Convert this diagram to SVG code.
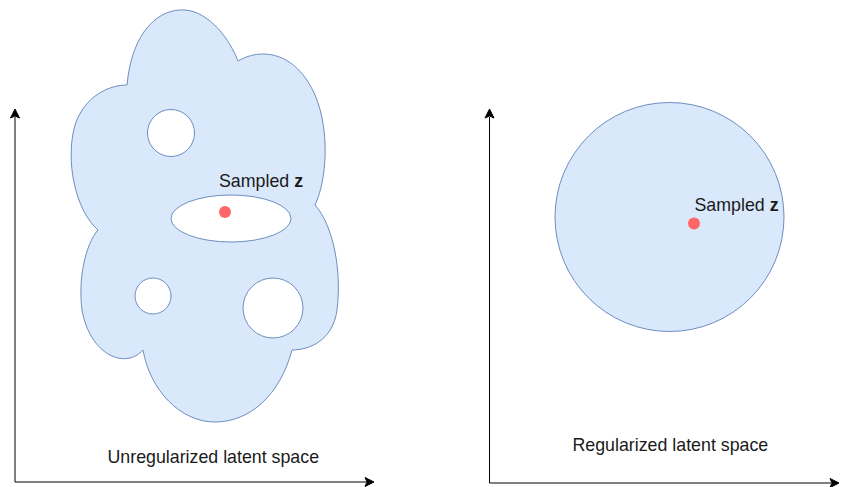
<svg xmlns="http://www.w3.org/2000/svg" width="841" height="487" viewBox="0 0 841 487">
  <style>
    .region { fill: #dae8fc; stroke: #6c8ebf; stroke-width: 1; }
    .hole { fill: #ffffff; stroke: #6c8ebf; stroke-width: 1; }
    .dot { fill: #ff6666; }
    .axis { fill: none; stroke: #000000; stroke-width: 1; }
    .head { fill: #000000; stroke: #000000; stroke-width: 1; }
    .label { font-family: "Liberation Sans", Arial, Helvetica, sans-serif; font-size: 17.8px; fill: #1a1a1a; }
    .bold { font-weight: bold; }
  </style>

  <!-- Axes -->
  <g id="connectors">
    <path class="axis" d="M15,482 L15,117"/>
    <path class="head" d="M15,109 L19.5,118 L15,116 L10.5,118 Z"/>
    <path class="axis" d="M15,482 L366,482"/>
    <path class="head" d="M374,482 L365,486.5 L367,482 L365,477.5 Z"/>
    <path class="axis" d="M489.5,483 L489.5,117"/>
    <path class="head" d="M489.5,109 L494,118 L489.5,116 L485,118 Z"/>
    <path class="axis" d="M489.5,483 L831,483"/>
    <path class="head" d="M839,483 L830,487.5 L832,483 L830,478.5 Z"/>
  </g>

  <!-- Unregularized latent space: irregular cloud with gaps -->
  <g id="cloud">
    <path class="region" d="M127,85 C132,30 160,8 185,10 C210,12 230,40 238,61
      C260,48 295,50 315,95 C330,130 327,180 315,205
      C333,225 342,270 337,310 C333,340 310,350 292,350
      C280,395 250,422 215,422 C180,422 150,390 143,350
      C125,370 90,355 82,310 C78,280 85,245 98,230
      C75,210 65,160 75,125 C85,95 110,85 127,85 Z"/>
    <circle class="hole" cx="171" cy="133" r="23.5"/>
    <circle class="hole" cx="153" cy="296" r="18"/>
    <circle class="hole" cx="273" cy="308" r="30"/>
  </g>

  <g id="sample-left">
    <ellipse class="hole" cx="231" cy="218.5" rx="60" ry="23.5"/>
    <circle class="dot" cx="225" cy="212" r="6"/>
    <text class="label" x="219" y="187">Sampled <tspan class="bold">z</tspan></text>
  </g>

  <!-- Regularized latent space: single round region -->
  <g id="circle-region">
    <circle class="region" cx="669.5" cy="217" r="114.5"/>
  </g>

  <g id="sample-right">
    <circle class="dot" cx="694" cy="223.5" r="6"/>
    <text class="label" x="694.5" y="211">Sampled <tspan class="bold">z</tspan></text>
  </g>

  <g id="label-left">
    <text class="label" x="107.5" y="463">Unregularized latent space</text>
  </g>
  <g id="label-right">
    <text class="label" x="572.5" y="450.5">Regularized latent space</text>
  </g>
</svg>
